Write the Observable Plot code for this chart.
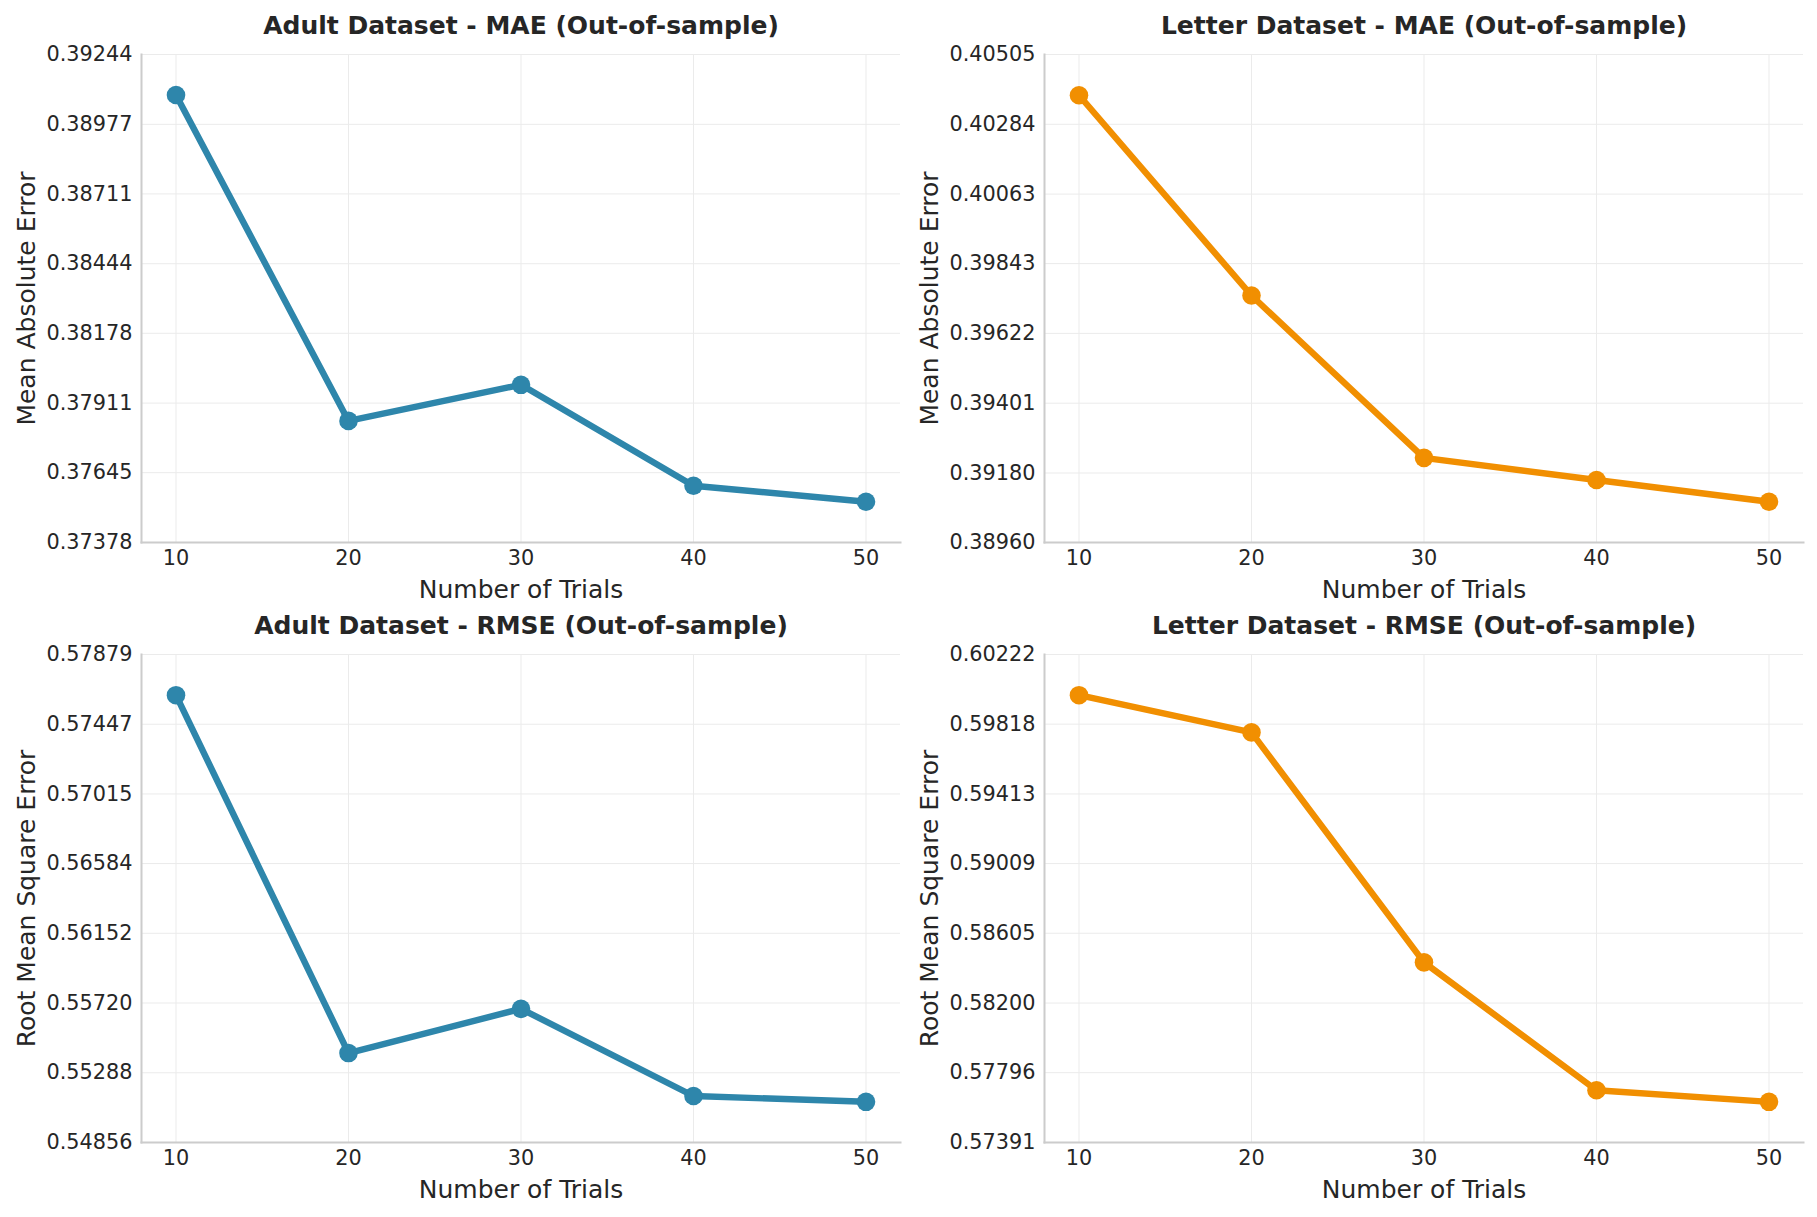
<!DOCTYPE html>
<html>
<head>
<meta charset="utf-8">
<script src="https://cdn.jsdelivr.net/npm/d3@7"></script>
<script src="https://cdn.jsdelivr.net/npm/@observablehq/plot@0.6"></script>
<style>
  html, body { margin: 0; padding: 0; background: #ffffff; }
  #wrap { position: relative; width: 1817px; height: 1217px; background: #ffffff; overflow: hidden; }
  #wrap > svg { position: absolute; }
</style>
</head>
<body>
<div id="wrap"></div>
<script>
// ---- data ----
const trials = [10, 20, 30, 40, 50];
const adultMAE   = [0.39089, 0.37843, 0.37981, 0.37595, 0.37534];
const letterMAE  = [0.40376, 0.39742, 0.39228, 0.39158, 0.39089];
const adultRMSE  = [0.57627, 0.55410, 0.55684, 0.55144, 0.55108];
const letterRMSE = [0.59986, 0.59770, 0.58436, 0.57694, 0.57627];

const xTicks = [10, 20, 30, 40, 50];
const adultMAETicks   = [0.37378, 0.37645, 0.37911, 0.38178, 0.38444, 0.38711, 0.38977, 0.39244];
const letterMAETicks  = [0.38960, 0.39180, 0.39401, 0.39622, 0.39843, 0.40063, 0.40284, 0.40505];
const adultRMSETicks  = [0.54856, 0.55288, 0.55720, 0.56152, 0.56584, 0.57015, 0.57447, 0.57879];
const letterRMSETicks = [0.57391, 0.57796, 0.58200, 0.58605, 0.59009, 0.59413, 0.59818, 0.60222];

const titles = [
  "Adult Dataset - MAE (Out-of-sample)",
  "Letter Dataset - MAE (Out-of-sample)",
  "Adult Dataset - RMSE (Out-of-sample)",
  "Letter Dataset - RMSE (Out-of-sample)"
];
const yLabels = ["Mean Absolute Error", "Mean Absolute Error", "Root Mean Square Error", "Root Mean Square Error"];
const xLabel = "Number of Trials";

// ---- styles / layout ----
const BLUE = "#2E86AB", ORANGE = "#F18F01";
const TEXT = "#262626", GRID = "#ebebeb", SPINE = "#cccccc";
const FONT = "DejaVu Sans";

const panels = [
  {values: adultMAE,   ticks: adultMAETicks,   color: BLUE,   left: 0,   top: 0,   width: 908, height: 608, mt: 54, mb: 66, ml: 141, mr: 8},
  {values: letterMAE,  ticks: letterMAETicks,  color: ORANGE, left: 908, top: 0,   width: 909, height: 608, mt: 54, mb: 66, ml: 136, mr: 14},
  {values: adultRMSE,  ticks: adultRMSETicks,  color: BLUE,   left: 0,   top: 608, width: 908, height: 609, mt: 46, mb: 75, ml: 141, mr: 8},
  {values: letterRMSE, ticks: letterRMSETicks, color: ORANGE, left: 908, top: 608, width: 909, height: 609, mt: 46, mb: 75, ml: 136, mr: 14}
];

const wrap = document.getElementById("wrap");
const fmt = d3.format(".5f");

panels.forEach((p, i) => {
  const data = trials.map((t, k) => ({trial: t, value: p.values[k]}));
  const svg = Plot.plot({
    width: p.width,
    height: p.height,
    marginTop: p.mt,
    marginBottom: p.mb,
    marginLeft: p.ml,
    marginRight: p.mr,
    style: {fontFamily: FONT, color: TEXT, background: "transparent", overflow: "visible"},
    x: {domain: [8, 52]},
    y: {domain: [p.ticks[0], p.ticks[p.ticks.length - 1]]},
    marks: [
      Plot.gridX(xTicks, {stroke: GRID, strokeOpacity: 1, strokeWidth: 1}),
      Plot.gridY(p.ticks, {stroke: GRID, strokeOpacity: 1, strokeWidth: 1}),
      Plot.frame({anchor: "left", stroke: SPINE, strokeWidth: 2}),
      Plot.frame({anchor: "bottom", stroke: SPINE, strokeWidth: 2}),
      Plot.axisX(xTicks, {tickSize: 0, tickPadding: 8, fontSize: 20.8, label: null, fill: TEXT}),
      Plot.axisY(p.ticks, {tickSize: 0, tickPadding: 9, fontSize: 20.8, label: null, tickFormat: fmt, fill: TEXT}),
      Plot.line(data, {x: "trial", y: "value", stroke: p.color, strokeWidth: 6.4, strokeLinejoin: "round", strokeLinecap: "round"}),
      Plot.dot(data, {x: "trial", y: "value", r: 9.3, fill: p.color, stroke: "none"}),
      Plot.text([titles[i]], {text: d => d, frameAnchor: "top", dy: -29, lineAnchor: "middle", fontSize: 25, fontWeight: "bold", fill: TEXT}),
      Plot.text([xLabel], {text: d => d, frameAnchor: "bottom", dy: 47, lineAnchor: "middle", fontSize: 25, fill: TEXT}),
      Plot.text([yLabels[i]], {text: d => d, frameAnchor: "left", textAnchor: "middle", dx: -115, rotate: -90, lineAnchor: "middle", fontSize: 25, fill: TEXT})
    ]
  });
  svg.style.left = p.left + "px";
  svg.style.top = p.top + "px";
  wrap.appendChild(svg);
});
</script>
</body>
</html>
